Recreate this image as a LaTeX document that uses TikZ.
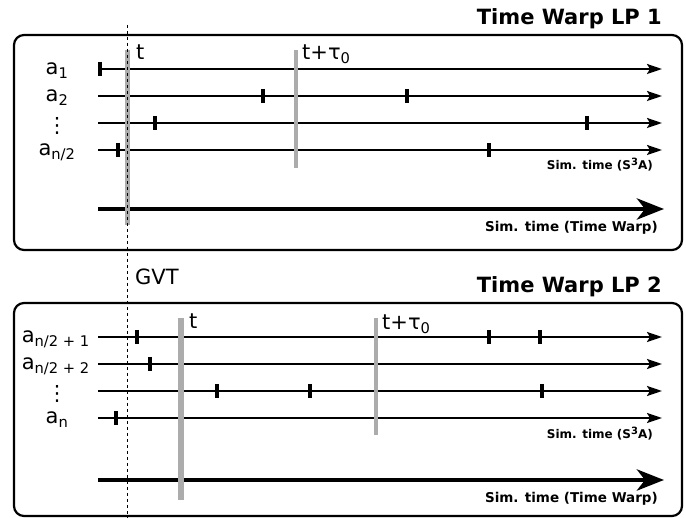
\documentclass[tikz,border=0pt]{standalone}
\usepackage{fontspec}
\setmainfont{DejaVu Sans}
\usepackage{tikz}
\usetikzlibrary{arrows.meta}
\tikzstyle{lpbox} = [draw=black, line width=2.2pt, rounded corners=10pt]
\tikzstyle{timeline} = [line width=2.2pt, -{Stealth[length=15pt,width=10pt,inset=3pt]}]
\tikzstyle{warpline} = [line width=4.8pt, -{Stealth[length=27pt,width=21pt,inset=8pt]}]
\tikzstyle{event} = [line width=4pt]
\tikzstyle{tbar} = [draw=gray!65, line width=5.5pt]
\tikzstyle{taubar} = [draw=gray!65, line width=4pt]
\tikzstyle{gvtline} = [line width=1.3pt, dash pattern=on 3pt off 3pt]
\tikzstyle{agent} = [font=\fontsize{21}{21}\selectfont, anchor=base, inner sep=0pt]
\tikzstyle{lptitle} = [font=\bfseries\fontsize{21}{21}\selectfont, anchor=base east, inner sep=0pt]
\tikzstyle{simaxis} = [font=\bfseries\fontsize{12}{12}\selectfont, anchor=base east, inner sep=0pt]
\tikzstyle{warpaxis} = [font=\bfseries\fontsize{13.5}{14}\selectfont, anchor=base east, inner sep=0pt]
\newcommand{\sthree}{S\raisebox{4.5pt}{\fontsize{10}{10}\selectfont 3}A}

\begin{document}
\begin{tikzpicture}[x=1pt, y=-1pt]
\useasboundingbox (0,0) rectangle (686,518);

% the two logical processes
\draw [lpbox] (14,35) rectangle (682,250);
\draw [lpbox] (14,303) rectangle (682,516);
\node (lp1) [lptitle] at (662,25) {Time Warp LP 1};
\node (lp2) [lptitle] at (662,293) {Time Warp LP 2};

% agent time lines
\foreach \y [count=\i] in {69,96,123,150,337,364,391,418} {
  \coordinate (s\i) at (98,\y);
  \coordinate (e\i) at (662,\y);
  \draw [timeline] (s\i) -- (e\i);
}
\coordinate (w1s) at (98,209);
\coordinate (w1e) at (664,209);
\coordinate (w2s) at (98,480);
\coordinate (w2e) at (664,480);
\draw [warpline] (w1s) -- (w1e);
\draw [warpline] (w2s) -- (w2e);

% events
\foreach \x/\y in {100/69, 263/96, 407/96, 155/123, 587/123, 118/150, 489/150,
  137/337, 489/337, 540/337, 150/364, 217/391, 310/391, 542/391, 116/418}
  \draw [event] (\x,\y-7) -- (\x,\y+7);

% agents
\node (a1) [agent] at (57,75) {a\textsubscript{1}};
\node (a2) [agent] at (57,102) {a\textsubscript{2}};
\node (dots1) [agent, anchor=center] at (57,126) {⋮};
\node (ahalf) [agent] at (57,156) {a\textsubscript{n/2}};
\node (ahalf1) [agent, anchor=base east] at (90,343) {a\textsubscript{n/2 + 1}};
\node (ahalf2) [agent, anchor=base east] at (90,370) {a\textsubscript{n/2 + 2}};
\node (dots2) [agent, anchor=center] at (57,394) {⋮};
\node (an) [agent] at (57,424) {a\textsubscript{n}};

% time windows
\draw [tbar] (127.5,50) -- (127.5,225);
\draw [taubar] (296,50) -- (296,168);
\draw [tbar] (181,318) -- (181,500);
\draw [taubar] (376,318) -- (376,435);
\node (t1) [agent, anchor=base west] at (136,60) {t};
\node (tau1) [agent, anchor=base west] at (302,60) {t+τ\textsubscript{0}};
\node (t2) [agent, anchor=base west] at (189,329) {t};
\node (tau2) [agent, anchor=base west] at (382,330) {t+τ\textsubscript{0}};

% GVT
\coordinate (gtop) at (127.5,25);
\coordinate (gbot) at (127.5,518);
\draw [gvtline] (gtop) -- (gbot);
\node (gvt) [agent, anchor=base west] at (135,285) {GVT};

% axis names
\node (sim1) [simaxis] at (653,170) {Sim. time (\sthree)};
\node (warp1) [warpaxis] at (658,232) {Sim. time (Time Warp)};
\node (sim2) [simaxis] at (653,439) {Sim. time (\sthree)};
\node (warp2) [warpaxis] at (658,503) {Sim. time (Time Warp)};
\end{tikzpicture}
\end{document}
